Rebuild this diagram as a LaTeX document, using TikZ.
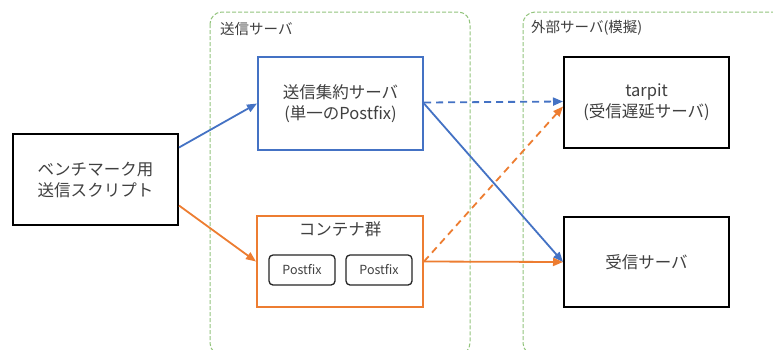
\documentclass[tikz,border=0pt]{standalone}
\usepackage{fontspec}
\setmainfont{Noto Sans CJK JP}
\usetikzlibrary{arrows.meta}
\definecolor{cblue}{HTML}{4472C4}
\definecolor{corange}{HTML}{ED7D31}
\definecolor{cgreen}{HTML}{93C47D}
\definecolor{ctext}{HTML}{404040}
\tikzset{
  grp/.style={draw=cgreen, line width=1bp, dash pattern=on 4bp off 2bp, rounded corners=12bp},
  grplabel/.style={anchor=west, inner sep=0, text=ctext, font=\fontsize{14.5bp}{18bp}\selectfont},
  box/.style={draw, line width=2bp, inner sep=0, align=center, text=ctext,
    font=\fontsize{16.5bp}{21bp}\selectfont, minimum width=165bp},
  pfbox/.style={draw=black!85, line width=1.3bp, rounded corners=4bp, inner sep=0,
    minimum width=66bp, minimum height=30bp, text=ctext, font=\fontsize{12.5bp}{15bp}\selectfont},
  arr/.style={line width=1.8bp, -{Triangle[length=10bp,width=8bp]}},
  dsh/.style={dash pattern=on 7bp off 5bp},
}
\begin{document}
\begin{tikzpicture}[x=1bp,y=-1bp]
\useasboundingbox (0,0) rectangle (773,349);
\clip (0,0) rectangle (773,349);
\fill[white] (0,0) rectangle (773,349);
% groups
\draw[grp] (210,12) rectangle (470,355);
\draw[grp] (523,12) rectangle (800,355);
\node[grplabel] (glab1) at (220,29) {送信サーバ};
\node[grplabel] (glab2) at (531,28) {外部サーバ(模擬)};
% boxes
\node[box, draw=black, minimum height=91bp] (bench) at (95.5,179.5) {ベンチマーク用\\送信スクリプト};
\node[box, draw=cblue, minimum height=93bp] (agg) at (340.5,103.5) {送信集約サーバ\\(単一のPostfix)};
\node[box, draw=corange, minimum width=166bp, minimum height=91bp] (cont) at (340,261.5) {};
\node[text=ctext, inner sep=0, font=\fontsize{16.5bp}{20bp}\selectfont] (conttitle) at (340,229) {コンテナ群};
\node[pfbox] (pf1) at (302,270) {Postfix};
\node[pfbox] (pf2) at (379,270) {Postfix};
\node[box, draw=black, minimum height=91bp] (tarpit) at (646.5,102.5) {tarpit\\(受信遅延サーバ)};
\node[box, draw=black, minimum height=90bp] (recv) at (646.5,262) {受信サーバ};
% connectors
\draw[arr, cblue] ([yshift=32bp]bench.east) -- (agg.west);
\draw[arr, corange] ([yshift=-26bp]bench.east) -- (cont.west);
\draw[arr, dsh, cblue] ([yshift=1bp]agg.east) -- ([yshift=1bp]tarpit.west);
\draw[arr, cblue] (agg.east) -- (recv.west);
\draw[arr, corange] (cont.east) -- (recv.west);
\draw[arr, dsh, corange] (cont.east) -- ([yshift=-4bp]tarpit.west);
\end{tikzpicture}
\end{document}
